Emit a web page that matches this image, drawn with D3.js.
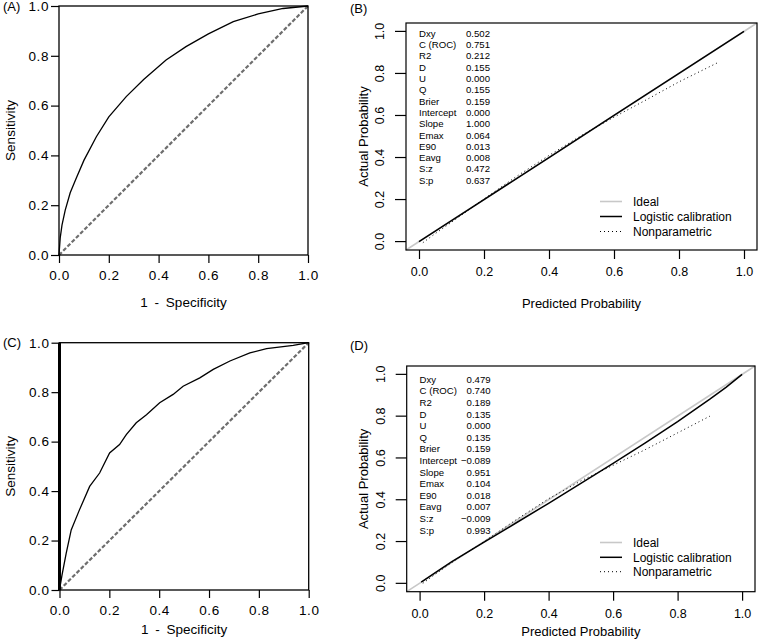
<!DOCTYPE html>
<html><head><meta charset="utf-8">
<script src="https://cdn.jsdelivr.net/npm/d3@7"></script>
<style>
body{margin:0;background:#fff;}
svg{display:block;font-family:"Liberation Sans",Arial,Helvetica,sans-serif;}
</style></head>
<body>
<svg id="chart" width="760" height="641"></svg>
<script>
// ---------- data ----------
const tickValues = [0, 0.2, 0.4, 0.6, 0.8, 1.0];
const tickLabels = ["0.0", "0.2", "0.4", "0.6", "0.8", "1.0"];

// ROC curve, panel A
const rocA_fpr = [0, 0.005, 0.012, 0.025, 0.045, 0.07, 0.1, 0.15, 0.2, 0.27, 0.34, 0.43, 0.51, 0.6, 0.7, 0.8, 0.9, 1];
const rocA_tpr = [0, 0.07, 0.12, 0.18, 0.25, 0.31, 0.38, 0.475, 0.555, 0.636, 0.705, 0.783, 0.837, 0.888, 0.937, 0.968, 0.99, 1];
// ROC curve, panel C
const rocC_fpr = [0, 0.01, 0.027, 0.047, 0.08, 0.121, 0.161, 0.201, 0.241, 0.268, 0.308, 0.349, 0.402, 0.456, 0.496, 0.563, 0.617, 0.684, 0.764, 0.831, 0.938, 1];
const rocC_tpr = [0, 0.06, 0.149, 0.243, 0.324, 0.419, 0.473, 0.554, 0.588, 0.628, 0.676, 0.709, 0.757, 0.791, 0.824, 0.858, 0.892, 0.926, 0.959, 0.976, 0.989, 1];

// Calibration, panel B
const calB_pred = [0, 0.2, 0.4, 0.6, 0.8, 1.0];
const calB_logistic = [0, 0.2, 0.4, 0.6, 0.8, 1.0];
const calB_np_pred = [0.012, 0.05, 0.1, 0.2, 0.3, 0.4, 0.5, 0.6, 0.7, 0.8, 0.92];
const calB_np_act = [-0.005, 0.038, 0.092, 0.203, 0.31, 0.41, 0.505, 0.592, 0.675, 0.76, 0.852];
// Calibration, panel D
const calD_pred = [0.005, 0.05, 0.1, 0.2, 0.3, 0.4, 0.5, 0.6, 0.7, 0.8, 0.9, 0.95, 1.0];
const calD_logistic = [0.006, 0.053, 0.104, 0.197, 0.29, 0.383, 0.478, 0.574, 0.672, 0.774, 0.881, 0.938, 1.0];
const calD_np_pred = [0.01, 0.05, 0.1, 0.2, 0.3, 0.4, 0.5, 0.6, 0.7, 0.8, 0.9];
const calD_np_act = [0.0, 0.045, 0.1, 0.2, 0.305, 0.405, 0.49, 0.565, 0.64, 0.72, 0.80];

const statLabels = ["Dxy", "C (ROC)", "R2", "D", "U", "Q", "Brier", "Intercept", "Slope", "Emax", "E90", "Eavg", "S:z", "S:p"];
const statsB = ["0.502", "0.751", "0.212", "0.155", "0.000", "0.155", "0.159", "0.000", "1.000", "0.064", "0.013", "0.008", "0.472", "0.637"];
const statsD = ["0.479", "0.740", "0.189", "0.135", "0.000", "0.135", "0.159", "\u22120.089", "0.951", "0.104", "0.018", "0.007", "\u22120.009", "0.993"];

const legendLabels = ["Ideal", "Logistic calibration", "Nonparametric"];

// ---------- drawing ----------
const svg = d3.select("#chart");
const line = (xs, ys, sx, sy) => d3.line().x((d, i) => sx(xs[i])).y((d, i) => sy(ys[i]))(xs);

function rocPanel(opt) {
  const g = svg.append("g");
  const x = d3.scaleLinear().domain([0, 1]).range([opt.x0, opt.x1]);
  const y = d3.scaleLinear().domain([0, 1]).range([opt.y1, opt.y0]);
  g.append("line").attr("x1", x(0)).attr("y1", y(0)).attr("x2", x(1)).attr("y2", y(1))
    .attr("stroke", "#6e6e6e").attr("stroke-width", 2.2).attr("stroke-dasharray", "4,2");
  g.append("path").attr("d", line(opt.fpr, opt.tpr, x, y))
    .attr("fill", "none").attr("stroke", "#000").attr("stroke-width", 1.3);
  g.append("rect").attr("x", opt.x0).attr("y", opt.y0).attr("width", opt.x1 - opt.x0).attr("height", opt.y1 - opt.y0)
    .attr("fill", "none").attr("stroke", "#000").attr("stroke-width", 1.3);
  if (opt.thickLeft) {
    g.append("line").attr("x1", x(0)).attr("x2", x(0)).attr("y1", y(0)).attr("y2", y(1))
      .attr("stroke", "#000").attr("stroke-width", 3);
  }
  const xa = g.append("g").attr("transform", `translate(0,${opt.y1})`)
    .call(d3.axisBottom(x).tickValues(tickValues).tickFormat((d, i) => tickLabels[i]).tickSize(8).tickPadding(4));
  const ya = g.append("g").attr("transform", `translate(${opt.x0},0)`)
    .call(d3.axisLeft(y).tickValues(tickValues).tickFormat((d, i) => tickLabels[i]).tickSize(8).tickPadding(2));
  [xa, ya].forEach(a => {
    a.select(".domain").remove();
    a.selectAll("line").attr("stroke", "#000").attr("stroke-width", 1.2);
    a.selectAll("text").attr("fill", "#000").attr("font-size", 13.5).attr("letter-spacing", "0.6px")
      .attr("font-family", "'Liberation Sans',Arial,sans-serif");
  });
  xa.selectAll("text").attr("dy", "0.95em");
  g.append("text").attr("x", (opt.x0 + opt.x1) / 2).attr("y", opt.xlabY).attr("text-anchor", "middle")
    .attr("font-size", 13.5).text("1 - Specificity").attr("word-spacing", "3px");
  g.append("text").attr("transform", `translate(${opt.ylabX},${(opt.y0 + opt.y1) / 2}) rotate(-90)`)
    .attr("text-anchor", "middle").attr("dy", "0.35em").attr("font-size", 13.5).text("Sensitivity");
  g.append("text").attr("x", 3).attr("y", opt.y0).attr("dy", "0.35em").attr("font-size", 13).text(opt.tag);
}

function calPanel(opt) {
  const g = svg.append("g");
  const x = d3.scaleLinear().domain([-0.04, 1.04]).range([opt.x0, opt.x1]);
  const y = d3.scaleLinear().domain([-0.04, 1.04]).range([opt.y1, opt.y0]);
  g.append("line").attr("x1", x(-0.04)).attr("y1", y(-0.04)).attr("x2", x(1.04)).attr("y2", y(1.04))
    .attr("stroke", "#c8c8c8").attr("stroke-width", 1.6);
  g.append("path").attr("d", line(opt.npPred, opt.npAct, x, y))
    .attr("fill", "none").attr("stroke", "#000").attr("stroke-width", 1).attr("stroke-dasharray", "1,3");
  g.append("path").attr("d", line(opt.pred, opt.logit, x, y))
    .attr("fill", "none").attr("stroke", "#000").attr("stroke-width", 1.5);
  g.append("rect").attr("x", opt.x0).attr("y", opt.y0).attr("width", opt.x1 - opt.x0).attr("height", opt.y1 - opt.y0)
    .attr("fill", "none").attr("stroke", "#000").attr("stroke-width", 1.2);
  const xa = g.append("g").attr("transform", `translate(0,${opt.y1})`)
    .call(d3.axisBottom(x).tickValues(tickValues).tickFormat((d, i) => tickLabels[i]).tickSize(9).tickPadding(5));
  const ya = g.append("g").attr("transform", `translate(${opt.x0},0)`)
    .call(d3.axisLeft(y).tickValues(tickValues).tickFormat((d, i) => tickLabels[i]).tickSize(11).tickPadding(0));
  [xa, ya].forEach(a => {
    a.select(".domain").remove();
    a.selectAll("line").attr("stroke", "#000").attr("stroke-width", 1.2);
    a.selectAll("text").attr("fill", "#000").attr("font-size", 12.5)
      .attr("font-family", "'Liberation Sans',Arial,sans-serif");
  });
  xa.selectAll("text").attr("dy", "0.95em");
  ya.selectAll("text").attr("x", null).attr("dy", null)
    .attr("text-anchor", "middle")
    .attr("transform", d => `translate(${-26},${y(d)}) rotate(-90)`)
    .attr("y", 0).attr("dy", "0.35em");
  ya.selectAll(".tick").attr("transform", null);
  ya.selectAll(".tick line").attr("y1", d => y(d)).attr("y2", d => y(d));
  g.append("text").attr("x", (x(0) + x(1)) / 2).attr("y", opt.xlabY).attr("text-anchor", "middle")
    .attr("font-size", 13).text("Predicted Probability");
  g.append("text").attr("transform", `translate(${opt.ylabX},${(y(0) + y(1)) / 2}) rotate(-90)`)
    .attr("text-anchor", "middle").attr("dy", "0.35em").attr("font-size", 13).text("Actual Probability");
  g.append("text").attr("x", opt.tagX).attr("y", opt.tagY).attr("dy", "0.35em").attr("font-size", 13).text(opt.tag);
  const st = g.append("g").attr("font-size", 9.6).attr("fill", "#000");
  statLabels.forEach((lab, i) => {
    const yy = opt.statY0 + i * opt.statDy;
    st.append("text").attr("x", x(0)).attr("y", yy).attr("dy", "0.35em").text(lab);
    st.append("text").attr("x", x(0) + 71).attr("y", yy).attr("dy", "0.35em").attr("text-anchor", "end").text(opt.stats[i]);
  });
  const lg = g.append("g");
  const styles = [
    {stroke: "#c8c8c8", w: 1.6, dash: null},
    {stroke: "#000", w: 1.5, dash: null},
    {stroke: "#000", w: 1, dash: "1,3"}
  ];
  legendLabels.forEach((lab, i) => {
    const yy = opt.legY[i];
    lg.append("line").attr("x1", 600).attr("x2", 622).attr("y1", yy).attr("y2", yy)
      .attr("stroke", styles[i].stroke).attr("stroke-width", styles[i].w).attr("stroke-dasharray", styles[i].dash);
    lg.append("text").attr("x", 633).attr("y", yy).attr("dy", "0.35em").attr("font-size", 12).text(lab);
  });
}

rocPanel({x0: 59, x1: 308, y0: 6, y1: 255, fpr: rocA_fpr, tpr: rocA_tpr, xlabY: 307, ylabX: 10, tag: "(A)"});
rocPanel({x0: 59.5, x1: 308.7, y0: 342.7, y1: 590, fpr: rocC_fpr, tpr: rocC_tpr, xlabY: 634, ylabX: 10, tag: "(C)", thickLeft: true});

calPanel({x0: 406, x1: 757, y0: 23, y1: 250, pred: calB_pred, logit: calB_logistic, npPred: calB_np_pred, npAct: calB_np_act,
  stats: statsB, statY0: 33.5, statDy: 11.3, legY: [201.5, 216.5, 231.5], xlabY: 308, ylabX: 363, tag: "(B)", tagX: 350, tagY: 8});
calPanel({x0: 406.7, x1: 755, y0: 366, y1: 591.7, pred: calD_pred, logit: calD_logistic, npPred: calD_np_pred, npAct: calD_np_act,
  stats: statsD, statY0: 379.5, statDy: 11.6, legY: [542.5, 557.3, 571.7], xlabY: 636, ylabX: 363, tag: "(D)", tagX: 350, tagY: 345});
</script>
</body></html>
